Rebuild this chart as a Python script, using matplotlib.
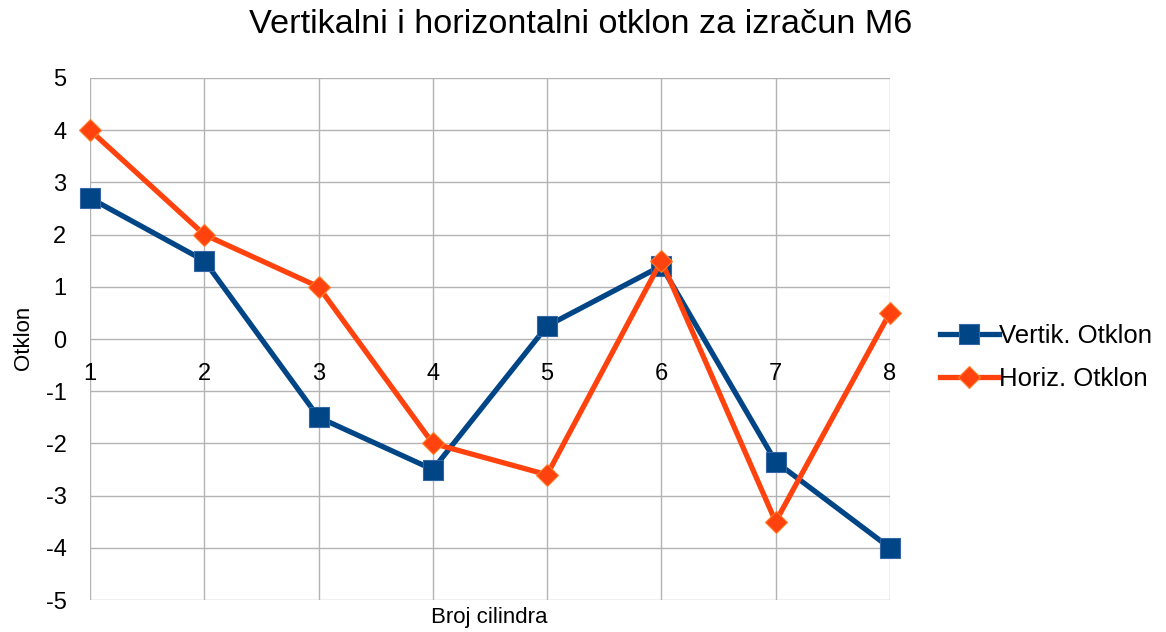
import matplotlib.pyplot as plt
import numpy as np

plt.rcParams['font.family'] = ['Liberation Sans', 'DejaVu Sans']
plt.rcParams['axes.unicode_minus'] = False

cilindri = [1, 2, 3, 4, 5, 6, 7, 8]
vertik = [2.7, 1.5, -1.5, -2.5, 0.25, 1.4, -2.35, -4.0]
horiz = [4.0, 2.0, 1.0, -2.0, -2.6, 1.5, -3.5, 0.5]

plava = '#004586'
narandzasta = '#ff420e'

fig = plt.figure(figsize=(11.66, 6.32), dpi=100)
ax = fig.add_axes([0.0772, 0.0506, 0.686, 0.826])

ax.plot(cilindri, vertik, color=plava, lw=3.8, marker='s', markersize=15,
        markeredgecolor='#3465a4', markeredgewidth=0.8, label='Vertik. Otklon',
        zorder=3, clip_on=False)
ax.plot(cilindri, horiz, color=narandzasta, lw=3.8, marker='D', markersize=11,
        markeredgecolor='#ff7f27', markeredgewidth=0.8, label='Horiz. Otklon',
        zorder=4, clip_on=False)

ax.set_xlim(1, 8)
ax.set_ylim(-5, 5)
ax.set_xticks(cilindri)
ax.set_yticks(np.arange(-5, 6, 1))
ax.grid(True, color='#b3b3b3', lw=1)
ax.set_axisbelow(True)

# x-os presjeca y=0, oznake ispod nje
ax.spines['bottom'].set_position(('data', 0))
for s in ax.spines.values():
    s.set_visible(False)
ax.tick_params(axis='x', length=0, pad=17, labelsize=17)
ax.tick_params(axis='y', length=0, pad=17, labelsize=17)

fig.text(0.42, 0.0235, 'Broj cilindra', ha='center', va='center', fontsize=16)
fig.text(0.02, 0.465, 'Otklon', ha='center', va='center', rotation=90, fontsize=16)
fig.suptitle('Vertikalni i horizontalni otklon za izračun M6', x=0.498, y=0.985,
             fontsize=24.7)

ax.legend(loc='center left', bbox_to_anchor=(1.046, 0.4646), frameon=False,
          fontsize=18.5, handlelength=2.3, handletextpad=0.0, labelspacing=0.75,
          borderpad=0)

fig.savefig('out.png', dpi=100)
